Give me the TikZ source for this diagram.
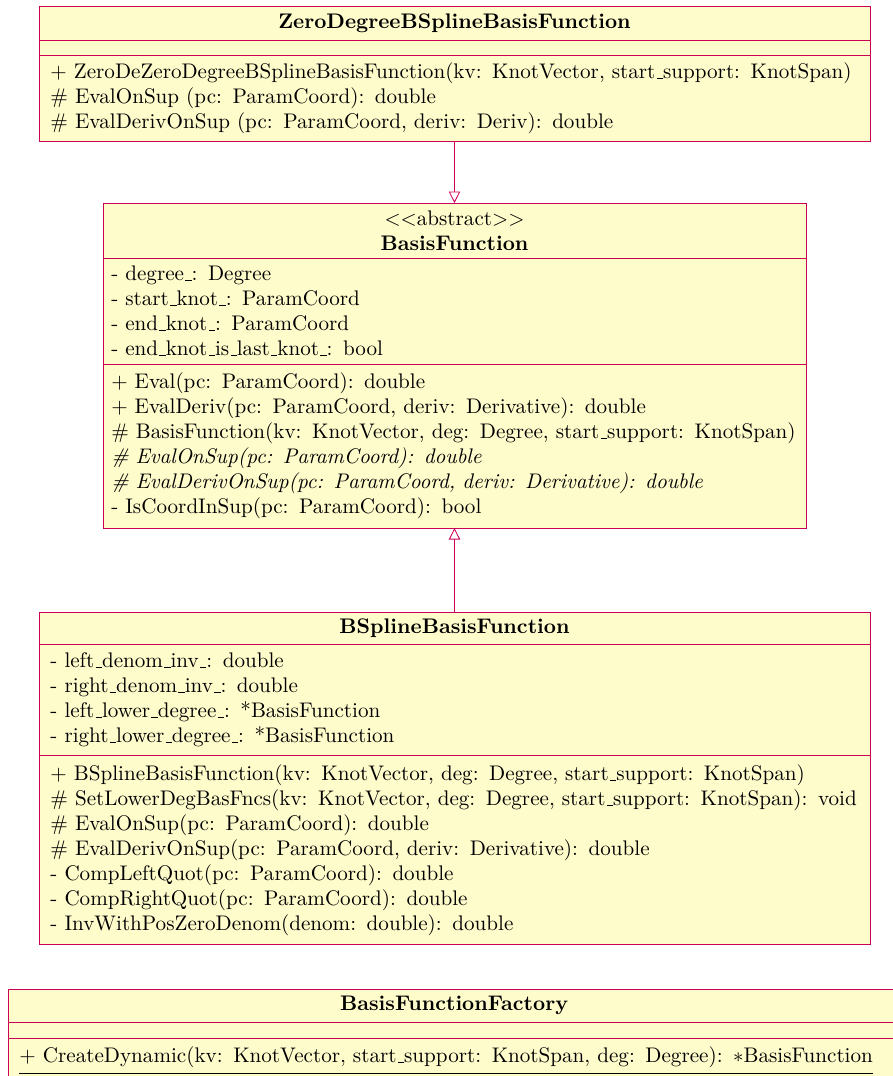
\documentclass[tikz,border=0pt]{standalone}
\usepackage{tikz}
\usetikzlibrary{positioning,calc}
\usetikzlibrary{arrows.meta}

\definecolor{umlline}{RGB}{204,0,85}
\newcommand{\uscore}{\leavevmode\kern.06em\vbox{\hrule width.3em}}

\begin{document}
\begin{tikzpicture}[
  classpart/.style={draw=umlline, fill=yellow!20, outer sep=0pt, inner xsep=5.5pt, align=left, font=\fontsize{10.15pt}{12pt}\selectfont},
  classname/.style={classpart, align=center, font=\fontsize{10.15pt}{12pt}\selectfont\bfseries},
  inherit/.style={draw=umlline, -{Triangle[open, length=5.5pt, width=5.5pt, fill=white]}}
]
  \useasboundingbox (0,0) rectangle (429.3pt,-517.3pt);
  \clip (0,0) rectangle (429.3pt,-517.3pt);

  % ZeroDegreeBSplineBasisFunction
  \node[classname, text width=388.5pt, minimum height=16.3pt, anchor=north] at (218.5pt, -2.9pt) (n_zd) {ZeroDegreeBSplineBasisFunction};
  \node[classpart, text width=388.5pt, minimum height=7.2pt, below=0pt of n_zd] (n_zd_attr) {};
  \node[classpart, text width=388.5pt, minimum height=41.8pt, below=0pt of n_zd_attr] (n_zd_ops) {+ ZeroDeZeroDegreeBSplineBasisFunction(kv: KnotVector, start\uscore support: KnotSpan)\\
    \# EvalOnSup (pc: ParamCoord): double\\
    \# EvalDerivOnSup (pc: ParamCoord, deriv: Deriv): double};

  % BasisFunction
  \node[classname, inner xsep=4pt, text width=330pt, minimum height=26.4pt, anchor=north] at (218.5pt, -97.6pt) (n_bf) {\textmd{$<<$abstract$>>$}\\ BasisFunction};
  \node[classpart, inner xsep=4pt, text width=330pt, minimum height=51pt, below=0pt of n_bf] (n_bf_attr) {- degree\uscore: Degree\\
    - start\uscore knot\uscore: ParamCoord\\
    - end\uscore knot\uscore: ParamCoord\\
    - end\uscore knot\uscore is\uscore last\uscore knot\uscore: bool};
  \node[classpart, inner xsep=4pt, text width=330pt, minimum height=78.9pt, below=0pt of n_bf_attr] (n_bf_ops) {+ Eval(pc: ParamCoord): double\\
    + EvalDeriv(pc: ParamCoord, deriv: Derivative): double\\
    \# BasisFunction(kv: KnotVector, deg: Degree, start\uscore support: KnotSpan)\\
    \textit{\# EvalOnSup(pc: ParamCoord): double}\\
    \textit{\# EvalDerivOnSup(pc: ParamCoord, deriv: Derivative): double}\\
    - IsCoordInSup(pc: ParamCoord): bool};

  % BSplineBasisFunction
  \node[classname, text width=388.5pt, minimum height=15.4pt, anchor=north] at (218.5pt, -294.2pt) (n_bs) {BSplineBasisFunction};
  \node[classpart, text width=388.5pt, minimum height=53.3pt, below=0pt of n_bs] (n_bs_attr) {- left\uscore denom\uscore inv\uscore: double\\
    - right\uscore denom\uscore inv\uscore: double\\
    - left\uscore lower\uscore degree\uscore: *BasisFunction\\
    - right\uscore lower\uscore degree\uscore: *BasisFunction};
  \node[classpart, text width=388.5pt, minimum height=90.9pt, below=0pt of n_bs_attr] (n_bs_ops) {+ BSplineBasisFunction(kv: KnotVector, deg: Degree, start\uscore support: KnotSpan)\\
    \# SetLowerDegBasFncs(kv: KnotVector, deg: Degree, start\uscore support: KnotSpan): void\\
    \# EvalOnSup(pc: ParamCoord): double\\
    \# EvalDerivOnSup(pc: ParamCoord, deriv: Derivative): double\\
    - CompLeftQuot(pc: ParamCoord): double\\
    - CompRightQuot(pc: ParamCoord): double\\
    - InvWithPosZeroDenom(denom: double): double};

  % BasisFunctionFactory
  \node[classname, text width=417.9pt, minimum height=15.9pt, anchor=north] at (218.3pt, -475.5pt) (n_bff) {BasisFunctionFactory};
  \node[classpart, text width=417.9pt, minimum height=7.7pt, below=0pt of n_bff] (n_bff_attr) {};
  \node[classpart, text width=417.9pt, below=0pt of n_bff_attr] (n_bff_ops) {\underline{+ CreateDynamic(kv: KnotVector, start\uscore support: KnotSpan, deg: Degree): $*$BasisFunction\strut}};

  \draw[inherit] (n_zd_ops.south) -- (n_bf.north);
  \draw[inherit] (n_bs.north) -- (n_bf_ops.south);

\end{tikzpicture}
\end{document}
